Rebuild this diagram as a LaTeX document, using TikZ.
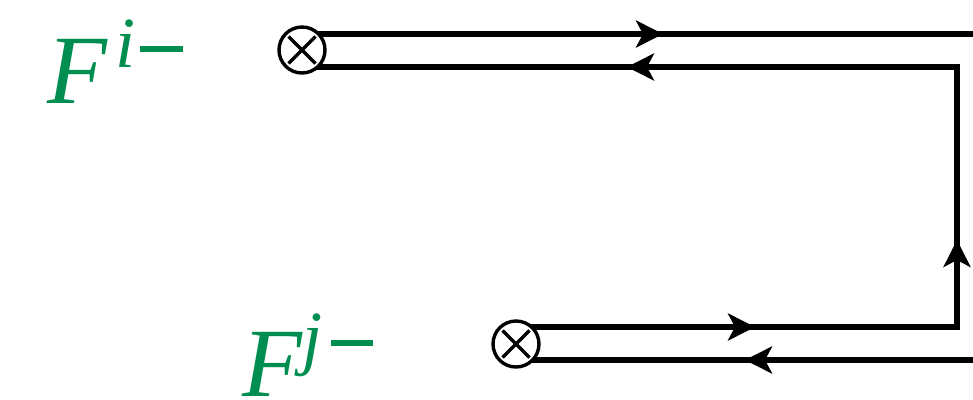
\documentclass[tikz,border=0pt]{standalone}
\usepackage{fontspec}
\setmainfont{Liberation Serif}
\usetikzlibrary{arrows.meta,decorations.markings,backgrounds}
\definecolor{fgreen}{RGB}{0,142,80}
\tikzset{tipA/.tip={Stealth[length=27pt,width=27pt,inset=7pt]}}
\begin{document}
\begin{tikzpicture}[x=1pt,y=-1pt,
  wire/.style={line width=5.2pt},
  vtx/.style={circle, draw, fill=white, line width=3.4pt, minimum size=46pt, inner sep=0pt,
    path picture={
      \draw[line width=3.4pt] ([shift={(-13.5pt,13.5pt)}]path picture bounding box.center) -- ([shift={(13.5pt,-13.5pt)}]path picture bounding box.center);
      \draw[line width=3.4pt] ([shift={(-13.5pt,-13.5pt)}]path picture bounding box.center) -- ([shift={(13.5pt,13.5pt)}]path picture bounding box.center);}},
  lab/.style={text=fgreen, font=\fontsize{98}{98}\selectfont\itshape, inner sep=0pt, anchor=base west}
]
\useasboundingbox (0,0) rectangle (973,399);
\node[vtx] (c1) at (302,50) {};
\node[vtx] (c2) at (516,344) {};
\coordinate (t1) at (973,34);
\coordinate (k1) at (957,67);
\coordinate (k2) at (957,327);
\coordinate (t2) at (973,360);
\begin{pgfonlayer}{background}
\draw[wire, decoration={markings, mark=at position 361pt with {\arrow{tipA}}}, postaction={decorate}]
  (c1.center |- t1) -- (t1);
\draw[wire, decoration={markings,
    mark=at position 239pt with {\arrow{tipA}},
    mark=at position 528pt with {\arrow{tipA}},
    mark=at position 1031pt with {\arrow{tipA}}}, postaction={decorate}]
  (c2.center |- k2) -- (k2) -- (k1) -- (c1.center |- k1);
\draw[wire, decoration={markings, mark=at position 228pt with {\arrow{tipA}}}, postaction={decorate}]
  (t2) -- (c2.center |- t2);
\end{pgfonlayer}
\node[lab] (Fi) at (47,103) {F\kern8pt\raisebox{36pt}{\fontsize{72}{72}\selectfont i}\kern5pt\rule[51pt]{43pt}{6pt}};
\node[lab] (Fj) at (242,396) {F\kern0pt\raisebox{35pt}{\fontsize{72}{72}\selectfont j}\kern9pt\rule[50pt]{42pt}{6pt}};
\end{tikzpicture}
\end{document}
